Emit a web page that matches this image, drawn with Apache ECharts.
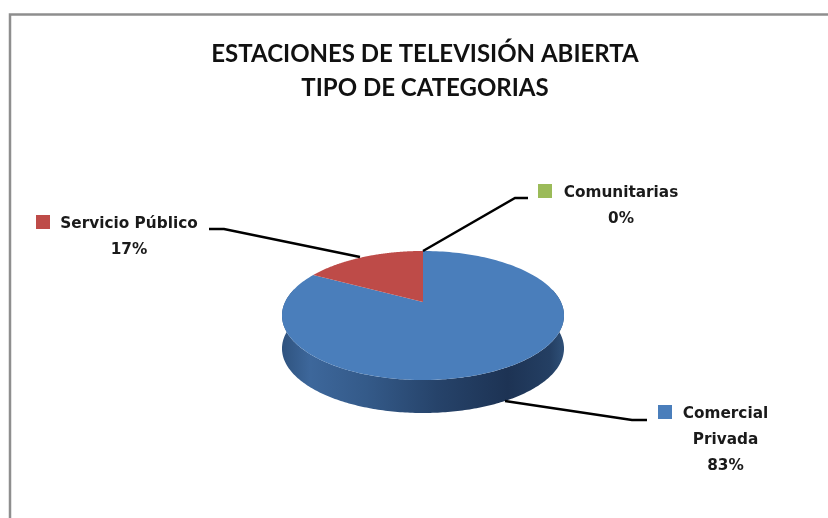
<!DOCTYPE html>
<html><head><meta charset="utf-8">
<style>html,body{margin:0;padding:0;background:#fff}#c{width:828px;height:518px}</style>
<script src="https://cdn.jsdelivr.net/npm/echarts@6/dist/echarts.min.js"></script>
</head><body><div id="c"></div>
<script>
var titleLines = ['ESTACIONES DE TELEVISIÓN ABIERTA', 'TIPO DE CATEGORIAS'];
var categories = ['Comercial\nPrivada', 'Comunitarias', 'Servicio Público'];
var shares = [83, 0, 17];
var colors = ['#4a7ebb', '#9bbb59', '#be4b48'];

// Perspective disk: centre, half-width, front/back reach, depth of wall
var P = {cx: 423, cy: 302, a: 137.9, b: 61.7, k: 0.209, depth: 33};
function proj(theta) { // theta clockwise from the top of the disk
  var u = Math.sin(theta), v = Math.cos(theta), d = 1 + P.k * v;
  return [P.cx + P.a * u / d, P.cy - P.b * v / d];
}
var labelLayout = [
  {box: [658, 405], text: [725.5, 414], line: [[647, 420], [632, 420], [505, 401]]},
  {box: [538, 184], text: [621, 193], line: [[528, 198], [515, 198], [423, 251]]},
  {box: [36, 215], text: [129, 224], line: [[209, 229], [224, 229], [360, 257]]}
];
var total = shares.reduce(function (s, x) { return s + x; }, 0);
var seriesData = shares.map(function (v, i) { return {value: v, name: categories[i]}; });

function renderSlice(params, api) {
  var i = params.dataIndex, start = 0;
  for (var j = 0; j < i; j++) start += shares[j];
  var t0 = start / total * 2 * Math.PI, t1 = (start + api.value(0)) / total * 2 * Math.PI;
  var kids = [];
  if (t1 > t0) {
    var pts = [[P.cx, P.cy]];
    for (var n = 0; n <= 180; n++) pts.push(proj(t0 + (t1 - t0) * n / 180));
    kids.push({type: 'polygon', shape: {points: pts}, style: {fill: colors[i]}, z2: 3});
  }
  return {type: 'group', children: kids};
}
function renderWall(params, api) {
  var i = params.dataIndex, start = 0;
  for (var j = 0; j < i; j++) start += shares[j];
  var t0 = start / total * 2 * Math.PI, t1 = (start + api.value(0)) / total * 2 * Math.PI;
  var front = [], n, t;
  for (n = 0; n <= 360; n++) {
    t = t0 + (t1 - t0) * n / 360;
    var c = Math.cos(t);
    if (c < 0.22) front.push(proj(t));
  }
  if (!front.length) return {type: 'group', children: []};
  var low = front.map(function (p) { return [p[0], p[1] + P.depth]; }).reverse();
  return {type: 'polygon', shape: {points: front.concat(low)}, style: {
    fill: {type: 'linear', x: 0, y: 0, x2: 1, y2: 0, colorStops: [
      {offset: 0, color: '#2f537f'}, {offset: 0.1, color: '#3d679b'}, {offset: 0.3, color: '#345a89'},
      {offset: 0.55, color: '#26436a'}, {offset: 0.8, color: '#1d3354'}, {offset: 0.95, color: '#243f63'}, {offset: 1, color: '#2f5078'}]}
  }};
}
function renderLabel(params, api) {
  var i = params.dataIndex, L = labelLayout[i];
  var name = categories[i], pct = Math.round(api.value(0) / total * 100) + '%';
  return {type: 'group', children: [
    {type: 'polyline', shape: {points: L.line}, style: {stroke: '#000', lineWidth: 2.5, fill: null}},
    {type: 'rect', shape: {x: L.box[0], y: L.box[1], width: 14, height: 14}, style: {fill: colors[i]}},
    {type: 'text', style: {x: L.text[0], y: L.text[1] - 13, text: name + '\n' + pct, fill: '#1a1a1a',
      font: 'bold 15.3px "DejaVu Sans", sans-serif', lineHeight: 26, align: 'center', verticalAlign: 'top'}}
  ]};
}
var chart = echarts.init(document.getElementById('c'), null, {renderer: 'canvas'});
chart.setOption({
  animation: false,
  backgroundColor: '#ffffff',
  title: {text: titleLines.join('\n'), left: 420, top: 32, textAlign: 'center',
    textStyle: {fontFamily: 'Lato, sans-serif', fontWeight: 'bold', fontSize: 24, lineHeight: 34, color: '#111', align: 'center'}},
  graphic: [{type: 'polyline', silent: true, shape: {points: [[10, 518], [10, 14.5], [828, 14.5]]},
    style: {stroke: '#8e8e8e', lineWidth: 2.5, fill: null}}],
  series: [
    {type: 'custom', coordinateSystem: 'none', renderItem: renderWall, data: seriesData, z: 1},
    {type: 'custom', coordinateSystem: 'none', renderItem: renderSlice, data: seriesData, z: 2},
    {type: 'custom', coordinateSystem: 'none', renderItem: renderLabel, data: seriesData, z: 3}
  ]
});
</script></body></html>
